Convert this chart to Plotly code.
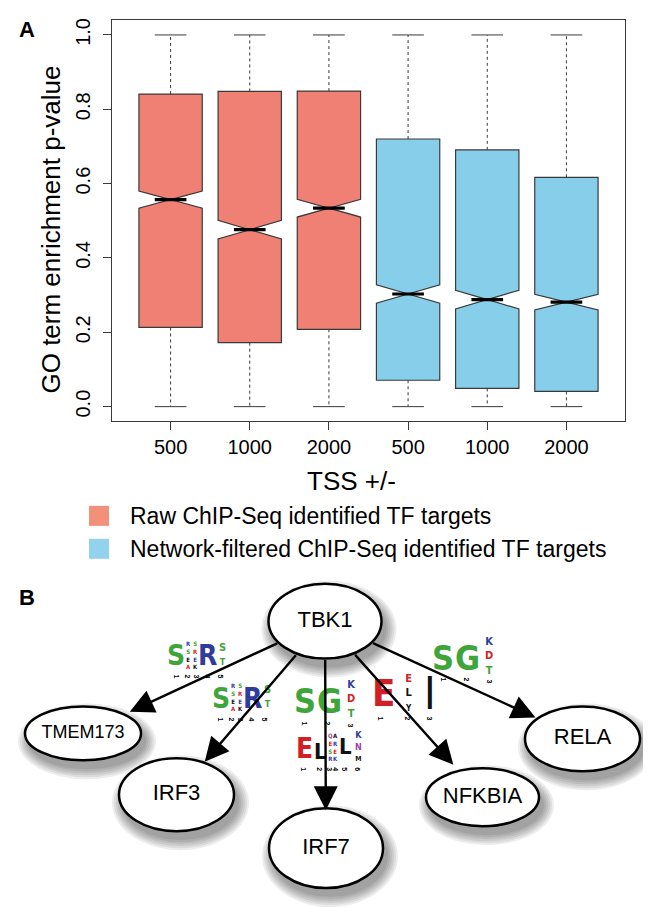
import math
import plotly.graph_objects as go

FONT = "Liberation Sans, Arial, Helvetica, sans-serif"
NARROW = "Liberation Sans Narrow, DejaVu Sans Condensed, Arial Narrow, Liberation Sans, sans-serif"
W, H = 651, 908

# ---------------- Panel A data ----------------
tss_labels = ["500", "1000", "2000", "500", "1000", "2000"]
series_names = ["Raw ChIP-Seq identified TF targets",
                "Network-filtered ChIP-Seq identified TF targets"]

raw_pos = [1, 2, 3]
raw_min = [0.0, 0.0, 0.0]
raw_q1 = [0.213, 0.172, 0.208]
raw_median = [0.557, 0.476, 0.534]
raw_q3 = [0.841, 0.848, 0.849]
raw_max = [1.0, 1.0, 1.0]
raw_notch = [0.023, 0.025, 0.024]

net_pos = [4, 5, 6]
net_min = [0.0, 0.0, 0.0]
net_q1 = [0.071, 0.049, 0.041]
net_median = [0.303, 0.288, 0.281]
net_q3 = [0.720, 0.691, 0.617]
net_max = [1.0, 1.0, 1.0]
net_notch = [0.025, 0.025, 0.021]

y_ticks = [0.0, 0.2, 0.4, 0.6, 0.8, 1.0]

# ---------------- Panel B data ----------------
nodes = ["TBK1", "TMEM173", "IRF3", "IRF7", "NFKBIA", "RELA"]
edge_source = ["TBK1", "TBK1", "TBK1", "TBK1", "TBK1"]
edge_target = ["TMEM173", "IRF3", "IRF7", "NFKBIA", "RELA"]

# graph layout (pixel positions of the drawing)
node_x = [317, 75, 168.5, 318, 474.5, 574.5]
node_y = [612.5, 725, 786.5, 840, 789, 730.5]
node_w = [113, 116, 115, 114, 113, 115]
node_h = [75, 54, 73, 80, 58, 65]
node_font = [22, 18, 22, 22, 22, 22]
CLIP_W, CLIP_H = 114, 76

RAW_FILL = "#EF8073"
NET_FILL = "#87CEEB"
RAW_LEG = "#F3907A"
NET_LEG = "#92D2EC"
EDGE = "#3a3a3a"
GREEN = "#3FA53A"
BLUE = "#2F3C9E"
RED = "#D21F26"
BLACK = "#111111"
PURPLE = "#A23FA8"

fig = go.Figure()


def add_group(pos, mn, q1, med, q3, mx, notch, fill, name):
    fig.add_trace(go.Box(
        x=pos, q1=q1, median=med, q3=q3, lowerfence=q1, upperfence=q3,
        notched=True, notchspan=notch, notchwidth=0.5, width=0.8,
        whiskerwidth=0, fillcolor=fill, line=dict(color=EDGE, width=1.2),
        boxpoints=False, name=name, showlegend=False, hoverinfo="skip",
        xaxis="x", yaxis="y"))
    wx, wy, cx, cy, mxs, mys = [], [], [], [], [], []
    for p, a, b, m, c, d in zip(pos, mn, q1, med, q3, mx):
        wx += [p, p, None, p, p, None]
        wy += [c, d, None, b, a, None]
        cx += [p - 0.2, p + 0.2, None, p - 0.2, p + 0.2, None]
        cy += [d, d, None, a, a, None]
        mxs += [p - 0.2, p + 0.2, None]
        mys += [m, m, None]
    fig.add_trace(go.Scatter(x=wx, y=wy, mode="lines", showlegend=False, hoverinfo="skip",
                             line=dict(color=EDGE, width=1, dash="3px,3px")))
    fig.add_trace(go.Scatter(x=cx, y=cy, mode="lines", showlegend=False, hoverinfo="skip",
                             line=dict(color=EDGE, width=1)))
    fig.add_trace(go.Scatter(x=mxs, y=mys, mode="lines", showlegend=False, hoverinfo="skip",
                             line=dict(color="black", width=3.2)))


add_group(raw_pos, raw_min, raw_q1, raw_median, raw_q3, raw_max, raw_notch, RAW_FILL, series_names[0])
add_group(net_pos, net_min, net_q1, net_median, net_q3, net_max, net_notch, NET_FILL, series_names[1])

# ---------------- Panel B: nodes ----------------
shapes = []
for x, y, w, h in zip(node_x, node_y, node_w, node_h):
    for k in range(6):
        g = 1.0 + k * 2.0
        shapes.append(dict(type="circle", xref="x2", yref="y2", layer="below",
                           x0=x - w / 2 - g + 4, x1=x + w / 2 + g + 4,
                           y0=y - h / 2 - g + 8, y1=y + h / 2 + g + 8,
                           fillcolor="rgba(0,0,0,0.07)", line=dict(width=0)))
for x, y, w, h in zip(node_x, node_y, node_w, node_h):
    shapes.append(dict(type="circle", xref="x2", yref="y2", layer="below",
                       x0=x - w / 2, x1=x + w / 2, y0=y - h / 2, y1=y + h / 2,
                       fillcolor="white", line=dict(color="black", width=2.5)))

fig.add_trace(go.Scatter(x=node_x, y=node_y, mode="text", text=nodes,
                         textfont=dict(family=FONT, size=node_font, color="black"),
                         showlegend=False, hoverinfo="skip", xaxis="x2", yaxis="y2"))

# legend squares
for name, col, yc in [(series_names[0], RAW_LEG, 507), (series_names[1], NET_LEG, 540)]:
    shapes.append(dict(type="rect", xref="x2", yref="y2", x0=81, x1=101, y0=yc - 10, y1=yc + 10,
                       fillcolor=col, line=dict(width=0)))

annotations = []


def txt(x, y, s, size, color="black", family=FONT, angle=0, bold=False, xanchor="center"):
    annotations.append(dict(x=x, y=y, xref="x2", yref="y2", text=s, showarrow=False,
                            xanchor=xanchor, yanchor="middle", textangle=angle, borderpad=0,
                            font=dict(family=family, size=size, color=color,
                                      weight=700 if bold else 400)))


# panel labels and axis titles
txt(19, 20, "A", 22, bold=True)
txt(19, 589, "B", 22, bold=True)
txt(43, 220, "GO term enrichment p-value", 26, angle=-90)
txt(343, 472, "TSS +/-", 26)
txt(121, 507, series_names[0], 23, xanchor="left")
txt(121, 540, series_names[1], 23, xanchor="left")

# ---------------- sequence logos ----------------
# each column: (dx, dy, line size, [(letter, colour, letter size), ...] top to bottom)
logo_ser = [(6, 17, 28, [("S", GREEN, 28)]),
            (18, 16, 6, [("R", BLUE, 6), ("S", GREEN, 6), ("E", BLACK, 6), ("A", RED, 6)]),
            (25, 16, 6, [("S", GREEN, 6), ("R", RED, 6), ("E", BLUE, 6), ("K", BLACK, 6)]),
            (37, 17, 28, [("R", BLUE, 28)]),
            (52, 15, 11, [("S", GREEN, 11), ("T", GREEN, 9)])]
logo_ser_nums = [(6, 38), (17, 38), (26, 38), (37, 38), (50, 38)]

logo_sg = [(10, 16, 34, [("S", GREEN, 34)]),
           (34.5, 16, 34, [("G", GREEN, 34)]),
           (56, 14, 11, [("K", BLUE, 11), ("D", RED, 11), ("T", GREEN, 11)])]
logo_sg_nums = [(10, 38), (33, 38), (56, 40)]

logo_el = [(5, 18, 28, [("E", RED, 28)]),
           (21, 21, 22, [("L", BLACK, 22)]),
           (31, 17, 6, [("Q", PURPLE, 6), ("E", RED, 6), ("S", GREEN, 6), ("R", BLUE, 6)]),
           (36.5, 17, 6, [("A", BLACK, 6), ("R", BLUE, 6), ("E", RED, 6), ("K", BLUE, 6)]),
           (46, 16, 22, [("L", BLACK, 22)]),
           (59, 16, 9, [("K", BLUE, 9), ("N", PURPLE, 9), ("M", BLACK, 7)])]
logo_el_nums = [(5, 39), (21, 39), (31, 39), (37, 39), (46, 39), (59, 39)]

logo_ee = [(10, 17, 38, [("E", RED, 38)]),
           (35, 16, 11, [("E", RED, 11), ("L", BLACK, 11), ("Y", BLACK, 8)])]
logo_ee_bar = (57, 17, 44)
logo_ee_nums = [(8, 42), (35, 42), (57, 42)]

logo_places = [(logo_ser, logo_ser_nums, 162, 630),
               (logo_ser, logo_ser_nums, 207, 673),
               (logo_sg, logo_sg_nums, 287, 677),
               (logo_el, logo_el_nums, 291, 722),
               (logo_ee, logo_ee_nums, 365, 668),
               (logo_sg, logo_sg_nums, 425, 633)]

for cols, nums, ox, oy in logo_places:
    for dx, dy, lsize, letters in cols:
        if len(letters) == 1:
            ch, col, sz = letters[0]
            txt(ox + dx, oy + dy, ch, sz, color=col, family=NARROW, bold=True)
        else:
            s = "<br>".join('<span style="color:%s;font-size:%dpx">%s</span>' % (col, sz, ch)
                            for ch, col, sz in letters)
            txt(ox + dx, oy + dy, s, lsize, family=NARROW, bold=True)
    for i, (dx, dy) in enumerate(nums):
        txt(ox + dx, oy + dy, str(i + 1), 7, color="black", family=FONT, angle=90, bold=True)

bx, by, bs = logo_ee_bar
txt(365 + bx, 668 + by, "I", bs, color=BLACK, family=NARROW)

# ---------------- arrows (drawn above logos) ----------------
idx = {n: i for i, n in enumerate(nodes)}
for s, t in zip(edge_source, edge_target):
    sx, sy = node_x[idx[s]], node_y[idx[s]]
    tx, ty = node_x[idx[t]], node_y[idx[t]]
    dx, dy = tx - sx, ty - sy
    k_src = 1 / math.sqrt((dx / (node_w[idx[s]] / 2)) ** 2 + (dy / (node_h[idx[s]] / 2)) ** 2)
    k_tgt = 1 / math.sqrt((dx / (CLIP_W / 2)) ** 2 + (dy / (CLIP_H / 2)) ** 2)
    annotations.append(dict(x=tx - dx * k_tgt, y=ty - dy * k_tgt, ax=sx + dx * k_src, ay=sy + dy * k_src,
                            xref="x2", yref="y2", axref="x2", ayref="y2", text="",
                            showarrow=True, arrowhead=2, arrowsize=2, arrowwidth=2.4,
                            arrowcolor="black", standoff=0))

fig.update_layout(
    width=W, height=H, margin=dict(l=0, r=0, t=0, b=0),
    paper_bgcolor="white", plot_bgcolor="rgba(0,0,0,0)",
    showlegend=False, boxmode="overlay",
    font=dict(family=FONT, color="black"),
    xaxis=dict(domain=[104 / W, 617 / W], range=[0.26, 6.74], tickvals=[1, 2, 3, 4, 5, 6],
               ticktext=tss_labels, ticks="outside", ticklen=8, tickcolor=EDGE,
               showline=True, mirror=True, linecolor=EDGE, linewidth=1,
               showgrid=False, zeroline=False, tickfont=dict(size=20, family=FONT, color="black"),
               anchor="y"),
    yaxis=dict(domain=[(H - 412.4) / H, (H - 10.1) / H], range=[-0.04, 1.04], tickvals=y_ticks,
               ticktext=["%.1f" % v for v in y_ticks], tickangle=-90, ticks="outside", ticklen=8,
               ticklabelstandoff=5,
               tickcolor=EDGE, showline=True, mirror=True, linecolor=EDGE, linewidth=1,
               showgrid=False, zeroline=False, tickfont=dict(size=20, family=FONT, color="black"),
               anchor="x"),
    xaxis2=dict(domain=[0, 1], range=[0, W], visible=False, anchor="y2", fixedrange=True),
    yaxis2=dict(domain=[0, 1], range=[H, 0], visible=False, anchor="x2", fixedrange=True),
    shapes=shapes, annotations=annotations,
)

fig.write_html("out.html")
